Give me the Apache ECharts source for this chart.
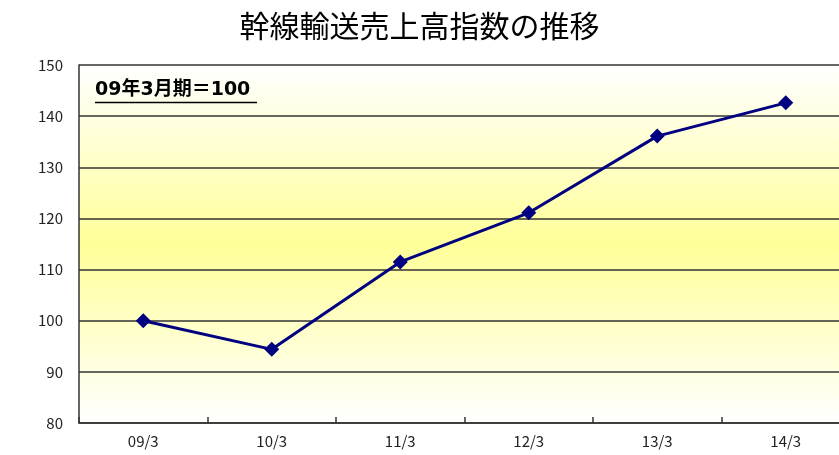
<!DOCTYPE html>
<html><head><meta charset="utf-8">
<script src="https://cdn.jsdelivr.net/npm/echarts@6/dist/echarts.min.js"></script>
<style>html,body{margin:0;padding:0;background:#fff}#c{width:839px;height:455px}</style>
</head><body><div id="c"></div>
<script>
const titleText = '幹線輸送売上高指数の推移';
const noteText = '09年3月期＝100';
const categories = ['09/3', '10/3', '11/3', '12/3', '13/3', '14/3'];
const indexValues = [100, 94.4, 111.5, 121.1, 136.1, 142.6];
const yMin = 80, yMax = 150, yStep = 10;

const chart = echarts.init(document.getElementById('c'), null, {renderer: 'canvas'});
const font = "'Noto Sans CJK JP', 'Noto Sans', sans-serif";
const noteFont = "'DejaVu Sans', 'Noto Sans CJK JP', sans-serif";
chart.setOption({
  animation: false,
  backgroundColor: '#ffffff',
  title: {
    text: titleText, left: 'center', top: 6,
    textStyle: {fontFamily: font, fontSize: 30, fontWeight: 'normal', color: '#000'}
  },
  grid: {
    left: 79, top: 65, right: -11, height: 358, show: true, borderWidth: 0,
    outerBoundsMode: 'none', containLabel: false,
    backgroundColor: {
      type: 'linear', x: 0, y: 0, x2: 0, y2: 1,
      colorStops: [
        {offset: 0, color: '#ffffff'},
        {offset: 0.5, color: '#ffff99'},
        {offset: 1, color: '#ffffff'}
      ]
    }
  },
  xAxis: {
    type: 'category', data: categories, boundaryGap: true,
    axisLine: {lineStyle: {color: '#333', width: 1.5}},
    axisTick: {show: true, length: 6, inside: true, lineStyle: {color: '#333', width: 1.5}},
    axisLabel: {fontFamily: font, fontSize: 15, color: '#222', margin: 11},
    splitLine: {show: false}
  },
  yAxis: {
    type: 'value', min: yMin, max: yMax, interval: yStep,
    axisLine: {show: true, lineStyle: {color: '#333', width: 1.5}},
    axisTick: {show: false},
    axisLabel: {fontFamily: font, fontSize: 15, color: '#222', margin: 16},
    splitLine: {show: true, lineStyle: {color: '#333', width: 1.5}}
  },
  graphic: [
    {type: 'text', left: 95, top: 81, z: 10,
     style: {text: noteText, font: 'bold 19px ' + noteFont, fill: '#000'}},
    {type: 'line', z: 10, shape: {x1: 95, y1: 102.5, x2: 257, y2: 102.5},
     style: {stroke: '#000', lineWidth: 1.5}}
  ],
  series: [{
    type: 'line', data: indexValues,
    symbol: 'diamond', symbolSize: 15,
    lineStyle: {color: '#000080', width: 3},
    itemStyle: {color: '#000080'}
  }]
});
</script></body></html>
